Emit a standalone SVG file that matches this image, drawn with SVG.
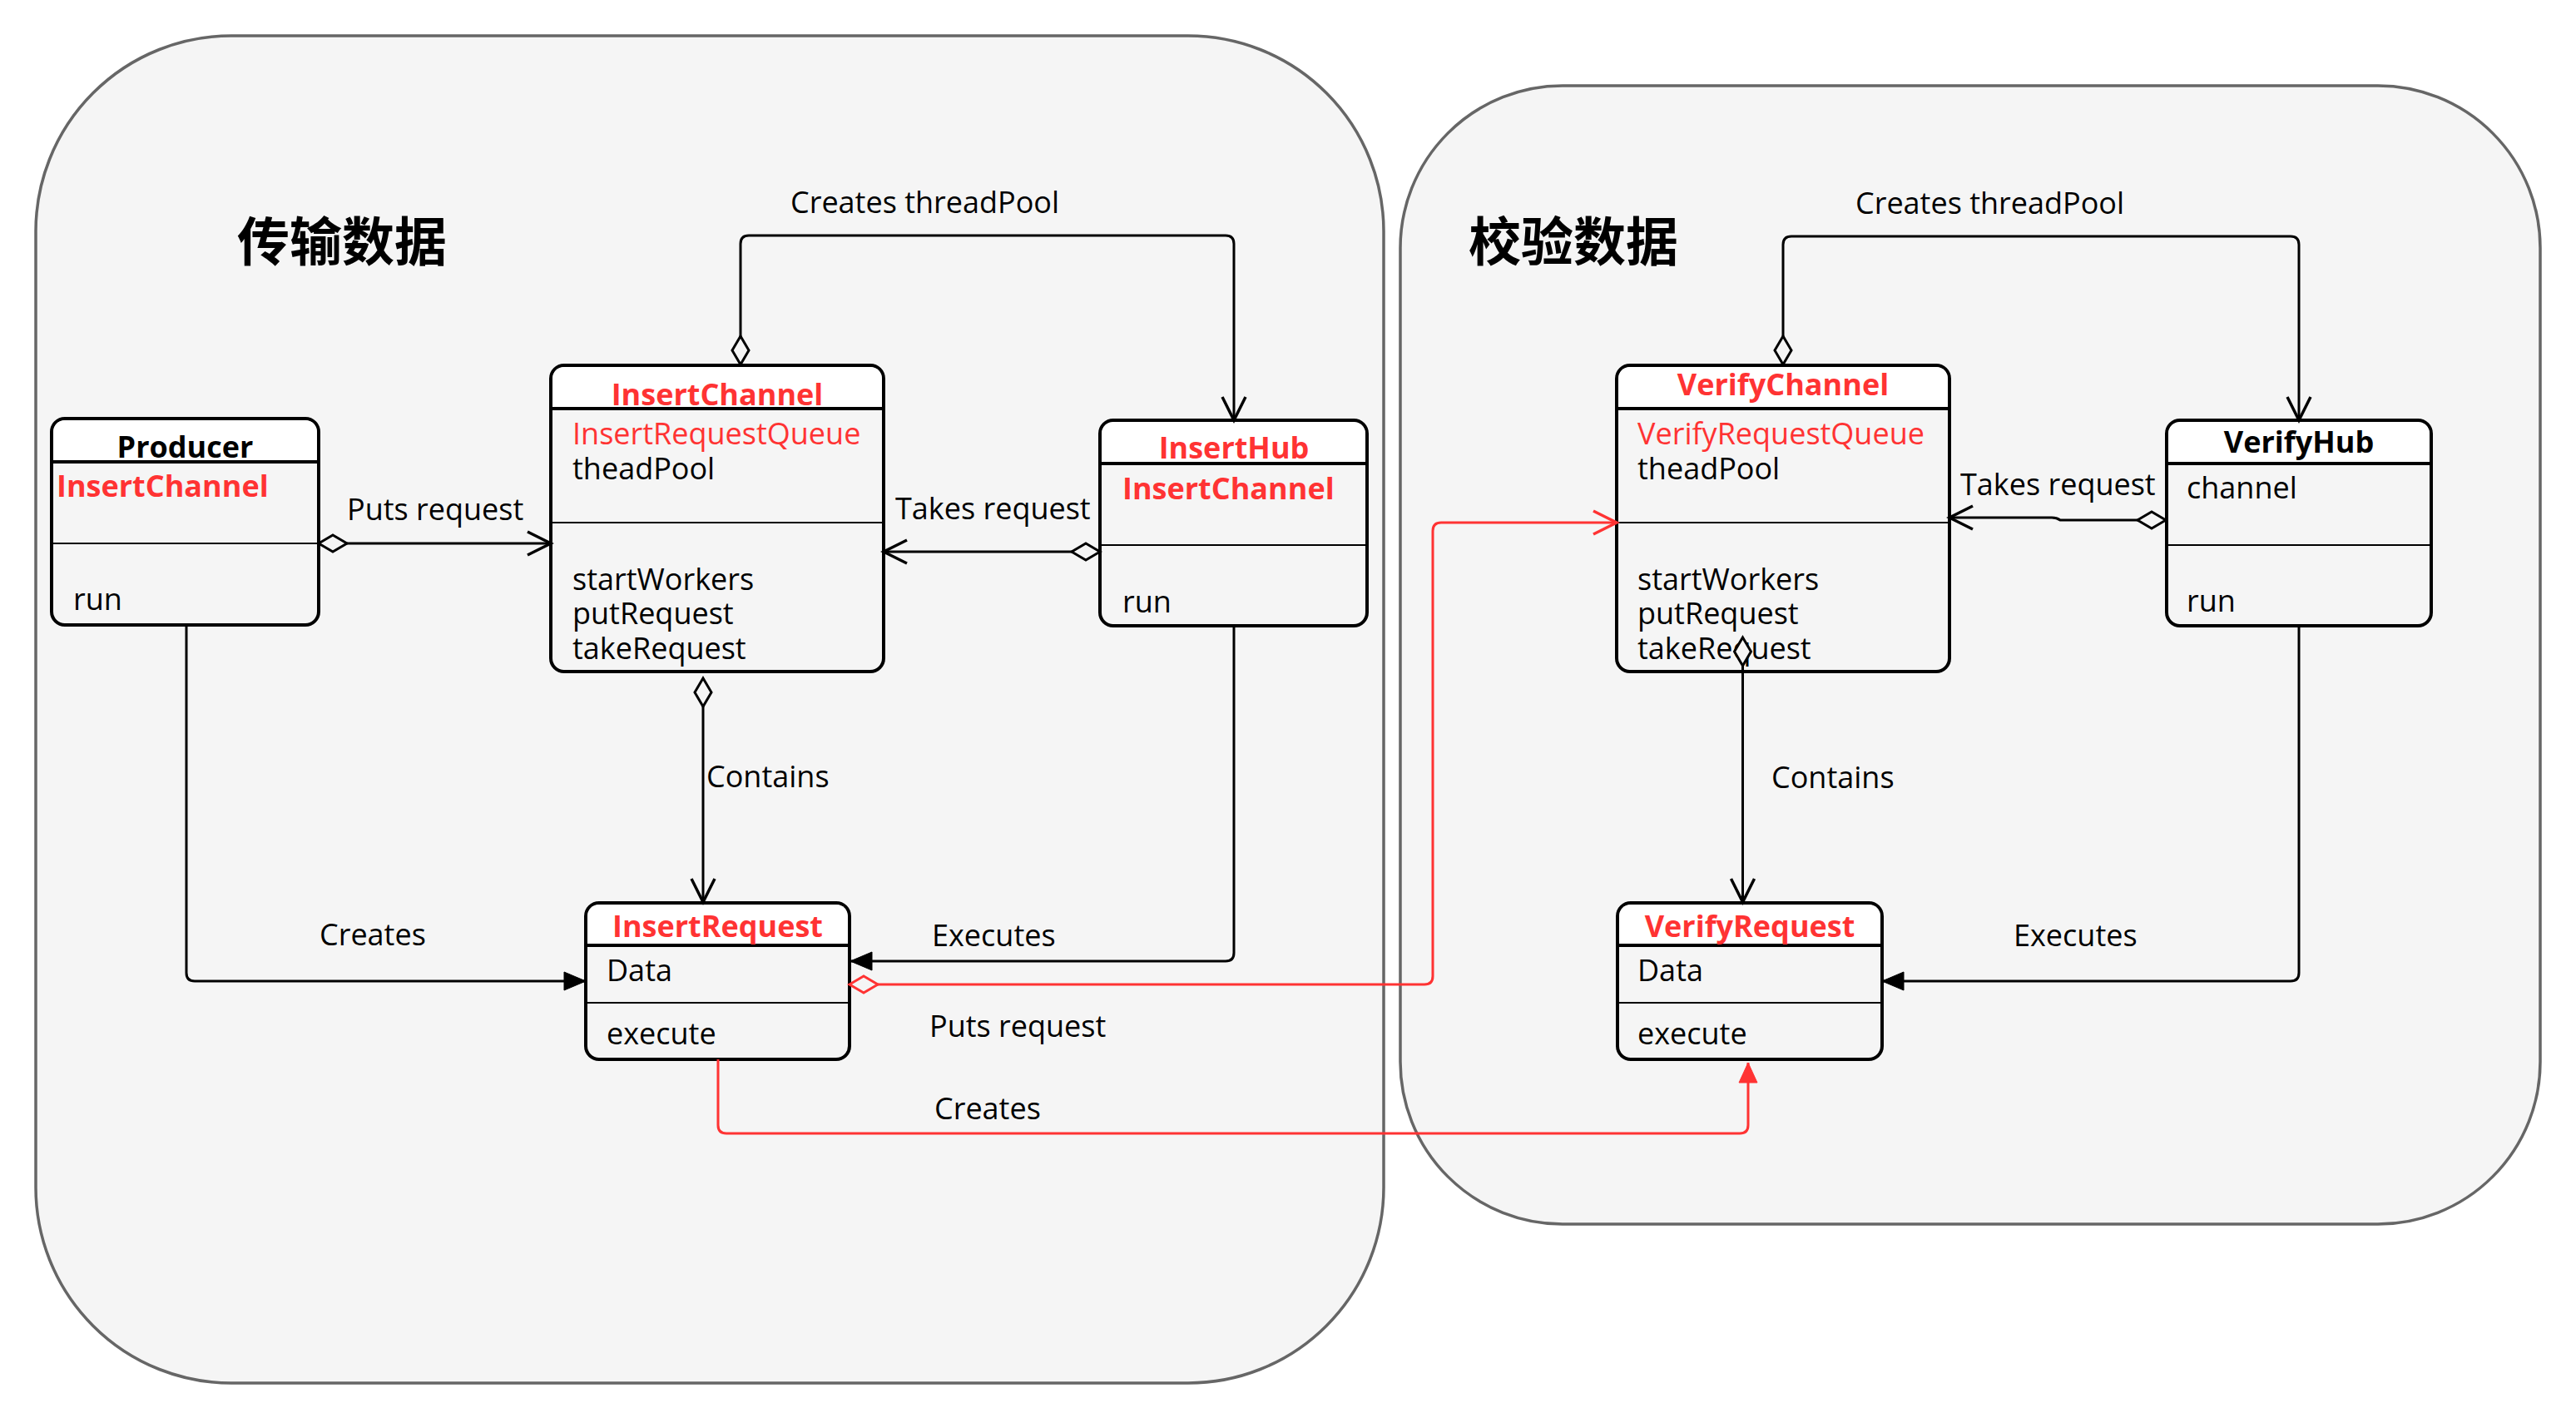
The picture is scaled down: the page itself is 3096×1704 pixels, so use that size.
<svg xmlns="http://www.w3.org/2000/svg" width="3096" height="1704" viewBox="0 0 3096 1704">
<style>
.cont{fill:#f5f5f5;stroke:#666666;stroke-width:3.5}
.box{fill:#f5f5f5;stroke:#000;stroke-width:4}
.hdr{fill:#ffffff;stroke:none}
.hl{stroke:#000;stroke-width:4}
.dl{stroke:#000;stroke-width:2}
.t{font-family:"Open Sans","Noto Sans",sans-serif;font-size:36px;fill:#000}
.b{font-weight:bold}
.r{fill:#ff3333}
.c{text-anchor:middle}
.cjk{font-family:"Noto Sans CJK SC",sans-serif;font-size:63px;font-weight:bold;fill:#000}
.ln{fill:none;stroke:#000;stroke-width:3}
.lnr{fill:none;stroke:#ff3333;stroke-width:3}
</style>
<defs>
<marker id="open" markerUnits="userSpaceOnUse" markerWidth="50" markerHeight="50" viewBox="-10 -25 50 50" refX="30" refY="0" orient="auto" overflow="visible">
<path d="M2,-14 L30,0 L2,14" fill="none" stroke="#000" stroke-width="3.5"/>
</marker>
<marker id="openr" markerUnits="userSpaceOnUse" markerWidth="50" markerHeight="50" viewBox="-10 -25 50 50" refX="30" refY="0" orient="auto" overflow="visible">
<path d="M2,-14 L30,0 L2,14" fill="none" stroke="#ff3333" stroke-width="3.5"/>
</marker>
<marker id="fill" markerUnits="userSpaceOnUse" markerWidth="50" markerHeight="50" viewBox="-10 -25 50 50" refX="26" refY="0" orient="auto" overflow="visible">
<path d="M0,-11 L26,0 L0,11 Z" fill="#000" stroke="#000" stroke-width="1"/>
</marker>
<marker id="fillr" markerUnits="userSpaceOnUse" markerWidth="50" markerHeight="50" viewBox="-10 -25 50 50" refX="24" refY="0" orient="auto" overflow="visible">
<path d="M0,-11 L24,0 L0,11 Z" fill="#ff3333" stroke="#ff3333" stroke-width="1"/>
</marker>
<marker id="dia" markerUnits="userSpaceOnUse" markerWidth="50" markerHeight="50" viewBox="-5 -25 50 50" refX="0" refY="0" orient="auto" overflow="visible">
<path d="M0,0 L17,-10 L34,0 L17,10 Z" fill="#f5f5f5" stroke="#000" stroke-width="3"/>
</marker>
<marker id="diar" markerUnits="userSpaceOnUse" markerWidth="50" markerHeight="50" viewBox="-5 -25 50 50" refX="0" refY="0" orient="auto" overflow="visible">
<path d="M0,0 L17,-10 L34,0 L17,10 Z" fill="#f5f5f5" stroke="#ff3333" stroke-width="3"/>
</marker>
</defs>
<rect width="3096" height="1704" fill="#ffffff"/>
<g id="container-transfer">
<rect class="cont" x="43" y="43" width="1620" height="1619" rx="235" ry="235"/>
<text class="cjk" x="285" y="313">传输数据</text>
</g>
<g id="container-verify">
<rect class="cont" x="1683" y="103" width="1370" height="1368" rx="195" ry="195"/>
<text class="cjk" x="1765" y="313">校验数据</text>
</g>

<g id="producer">
<rect class="box" x="62" y="503" width="321" height="248" rx="16"/>
<path class="hdr" d="M64,555 V521 Q64,505 80,505 H365 Q381,505 381,521 V555 Z"/>
<line class="hl" x1="62" y1="555" x2="383" y2="555"/>
<line class="dl" x1="62" y1="653" x2="383" y2="653"/>
<text class="t b c" x="222.5" y="550">Producer</text>
<text class="t b r" x="68" y="597">InsertChannel</text>
<text class="t" x="88" y="733">run</text>
</g>

<g id="insert-channel">
<rect class="box" x="662" y="439" width="400" height="368" rx="16"/>
<path class="hdr" d="M664,491 V457 Q664,441 680,441 H1044 Q1060,441 1060,457 V491 Z"/>
<line class="hl" x1="662" y1="491" x2="1062" y2="491"/>
<line class="dl" x1="662" y1="628" x2="1062" y2="628"/>
<text class="t b r c" x="862" y="487">InsertChannel</text>
<text class="t r" x="688" y="534">InsertRequestQueue</text>
<text class="t" x="688" y="576">theadPool</text>
<text class="t" x="688" y="709">startWorkers</text>
<text class="t" x="688" y="750">putRequest</text>
<text class="t" x="688" y="792">takeRequest</text>
</g>

<g id="insert-hub">
<rect class="box" x="1322" y="505" width="321" height="247" rx="16"/>
<path class="hdr" d="M1324,557 V523 Q1324,507 1340,507 H1625 Q1641,507 1641,523 V557 Z"/>
<line class="hl" x1="1322" y1="557" x2="1643" y2="557"/>
<line class="dl" x1="1322" y1="655" x2="1643" y2="655"/>
<text class="t b r c" x="1483" y="551">InsertHub</text>
<text class="t b r" x="1349" y="600">InsertChannel</text>
<text class="t" x="1349" y="736">run</text>
</g>

<g id="insert-request">
<rect class="box" x="704" y="1085" width="317" height="188" rx="16"/>
<path class="hdr" d="M706,1136 V1103 Q706,1087 722,1087 H1003 Q1019,1087 1019,1103 V1136 Z"/>
<line class="hl" x1="704" y1="1136" x2="1021" y2="1136"/>
<line class="dl" x1="704" y1="1205" x2="1021" y2="1205"/>
<text class="t b r c" x="862.5" y="1126">InsertRequest</text>
<text class="t" x="729" y="1179">Data</text>
<text class="t" x="729" y="1255">execute</text>
</g>

<g id="verify-channel">
<rect class="box" x="1943" y="439" width="400" height="368" rx="16"/>
<path class="hdr" d="M1945,491 V457 Q1945,441 1961,441 H2325 Q2341,441 2341,457 V491 Z"/>
<line class="hl" x1="1943" y1="491" x2="2343" y2="491"/>
<line class="dl" x1="1943" y1="628" x2="2343" y2="628"/>
<text class="t b r c" x="2143" y="475">VerifyChannel</text>
<text class="t r" x="1968" y="534">VerifyRequestQueue</text>
<text class="t" x="1968" y="576">theadPool</text>
<text class="t" x="1968" y="709">startWorkers</text>
<text class="t" x="1968" y="750">putRequest</text>
<text class="t" x="1968" y="792">takeRequest</text>
</g>

<g id="verify-hub">
<rect class="box" x="2604" y="505" width="318" height="247" rx="16"/>
<path class="hdr" d="M2606,557 V523 Q2606,507 2622,507 H2904 Q2920,507 2920,523 V557 Z"/>
<line class="hl" x1="2604" y1="557" x2="2922" y2="557"/>
<line class="dl" x1="2604" y1="655" x2="2922" y2="655"/>
<text class="t b c" x="2763" y="544">VerifyHub</text>
<text class="t" x="2628" y="599">channel</text>
<text class="t" x="2628" y="735">run</text>
</g>

<g id="verify-request">
<rect class="box" x="1944" y="1085" width="318" height="188" rx="16"/>
<path class="hdr" d="M1946,1136 V1103 Q1946,1087 1962,1087 H2244 Q2260,1087 2260,1103 V1136 Z"/>
<line class="hl" x1="1944" y1="1136" x2="2262" y2="1136"/>
<line class="dl" x1="1944" y1="1205" x2="2262" y2="1205"/>
<text class="t b r c" x="2103" y="1126">VerifyRequest</text>
<text class="t" x="1968" y="1179">Data</text>
<text class="t" x="1968" y="1255">execute</text>
</g>

<g id="connectors">
<path class="ln" d="M383,653 H662" marker-start="url(#dia)" marker-end="url(#open)"/>
<path class="ln" d="M1322,663 H1062" marker-start="url(#dia)" marker-end="url(#open)"/>
<path class="ln" d="M890,438 V293 Q890,283 900,283 H1473 Q1483,283 1483,293 V505" marker-start="url(#dia)" marker-end="url(#open)"/>
<path class="ln" d="M845,815 V1084" marker-start="url(#dia)" marker-end="url(#open)"/>
<path class="ln" d="M224,751 V1169 Q224,1179 234,1179 H704" marker-end="url(#fill)"/>
<path class="ln" d="M1483,752 V1145 Q1483,1155 1473,1155 H1022" marker-end="url(#fill)"/>
<path class="lnr" d="M1021,1183 H1712 Q1722,1183 1722,1173 V638 Q1722,628 1732,628 H1943" marker-start="url(#diar)" marker-end="url(#openr)"/>
<path class="lnr" d="M863,1273 V1352 Q863,1362 873,1362 H2091 Q2101,1362 2101,1352 V1277" marker-end="url(#fillr)"/>
<path class="ln" d="M2143,438 V294 Q2143,284 2153,284 H2753 Q2763,284 2763,294 V505" marker-start="url(#dia)" marker-end="url(#open)"/>
<path class="ln" d="M2603,625 H2476 Q2472,622 2466,622 H2343" marker-start="url(#dia)" marker-end="url(#open)"/>
<path class="ln" d="M2094.5,766 V1084" marker-start="url(#dia)" marker-end="url(#open)"/>
<path class="ln" d="M2763,752 V1169 Q2763,1179 2753,1179 H2262" marker-end="url(#fill)"/>
<text class="t" x="950" y="256">Creates threadPool</text>
<text class="t" x="417" y="625">Puts request</text>
<text class="t" x="1076" y="624">Takes request</text>
<text class="t" x="849" y="946">Contains</text>
<text class="t" x="384" y="1136">Creates</text>
<text class="t" x="1120" y="1137">Executes</text>
<text class="t" x="1117" y="1246">Puts request</text>
<text class="t" x="1123" y="1345">Creates</text>
<text class="t" x="2230" y="257">Creates threadPool</text>
<text class="t" x="2356" y="595">Takes request</text>
<text class="t" x="2129" y="947">Contains</text>
<text class="t" x="2420" y="1137">Executes</text>
</g>
</svg>
